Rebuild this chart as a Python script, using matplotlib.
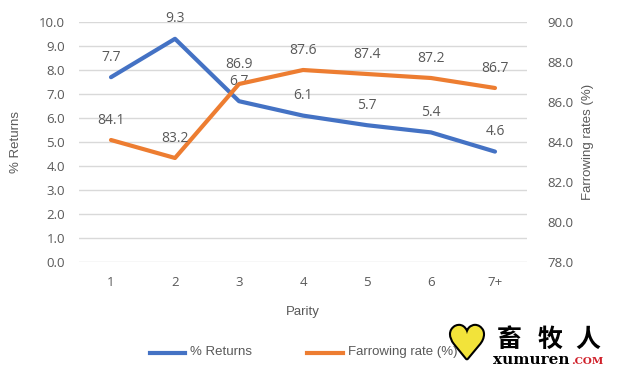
import matplotlib.pyplot as plt
import matplotlib.patheffects as pe

parity = ["1", "2", "3", "4", "5", "6", "7+"]
returns = [7.7, 9.3, 6.7, 6.1, 5.7, 5.4, 4.6]
farrowing = [84.1, 83.2, 86.9, 87.6, 87.4, 87.2, 86.7]

BLUE = "#4472C4"
ORANGE = "#ED7D31"
GREY = "#595959"

plt.rcParams['font.family'] = ['Open Sans', 'DejaVu Sans']

fig = plt.figure(figsize=(6.26, 3.69), dpi=100)
ax = fig.add_axes([79 / 626, 1 - 262 / 369, 448 / 626, 240 / 369])
ax2 = ax.twinx()

x = list(range(len(parity)))
ax.plot(x, returns, color=BLUE, lw=3, solid_capstyle='round', zorder=3)
ax2.plot(x, farrowing, color=ORANGE, lw=3, solid_capstyle='round', zorder=3)

for xi, v in zip(x, returns):
    ax.annotate(f"{v:.1f}", (xi, v), xytext=(0, 9), textcoords='offset points',
                ha='center', va='bottom', fontsize=10, color=GREY)
for xi, v in zip(x, farrowing):
    ax2.annotate(f"{v:.1f}", (xi, v), xytext=(0, 9), textcoords='offset points',
                 ha='center', va='bottom', fontsize=10, color=GREY)

ax.set_xlim(-0.5, len(parity) - 0.5)
ax.set_ylim(0, 10)
ax.set_yticks([i for i in range(11)])
ax.set_yticklabels([f"{i:.1f}" for i in range(11)])
ax2.set_ylim(78, 90)
ax2.set_yticks([78, 80, 82, 84, 86, 88, 90])
ax2.set_yticklabels([f"{v:.1f}" for v in [78, 80, 82, 84, 86, 88, 90]])
ax.set_xticks(x)
ax.set_xticklabels(parity)

ax.grid(axis='y', color="#D9D9D9", lw=1)
ax.set_axisbelow(True)
for a in (ax, ax2):
    for s in a.spines.values():
        s.set_visible(False)
    a.tick_params(length=0, colors=GREY, labelsize=9.5)
ax.tick_params(axis='y', pad=10)
ax.tick_params(axis='x', pad=10)
ax2.tick_params(axis='y', pad=15)

lab = dict(color=GREY, fontsize=9.5, family='Liberation Sans')
ax.set_xlabel("Parity", labelpad=12, **lab)
ax.set_ylabel("% Returns", labelpad=12, **lab)
ax2.set_ylabel("Farrowing rates (%)", labelpad=6, **lab)

# legend
fig.lines.append(plt.Line2D([150 / 626, 185 / 626], [1 - 353 / 369] * 2, color=BLUE, lw=3, transform=fig.transFigure))
fig.text(190 / 626, 1 - 352 / 369, "% Returns", va='center', **lab)
fig.lines.append(plt.Line2D([307 / 626, 343 / 626], [1 - 353 / 369] * 2, color=ORANGE, lw=3, transform=fig.transFigure))
fig.text(348 / 626, 1 - 352 / 369, "Farrowing rate (%)", va='center', **lab)

# watermark
fig.text(467 / 626, 1 - 347 / 369, "\u2665", fontsize=32, color="#F2E33A", ha='center', va='center',
         path_effects=[pe.withStroke(linewidth=3, foreground="black")])
for cx, ch in zip([509, 550, 588], "畜牧人"):
    fig.text(cx / 626, 1 - 340 / 369, ch, fontsize=18, fontweight='bold', color="black",
             ha='center', va='center', family=['Noto Sans CJK SC'])
fig.text(493 / 626, 1 - 360 / 369, "xumuren", fontsize=11, fontweight='bold', color="black",
         ha='left', va='center', family='DejaVu Serif')
fig.text(603 / 626, 1 - 361 / 369, ".COM", fontsize=7.5, fontweight='bold', color="#D0202A",
         ha='right', va='center', family='DejaVu Serif')

fig.savefig("out.png", dpi=100)
